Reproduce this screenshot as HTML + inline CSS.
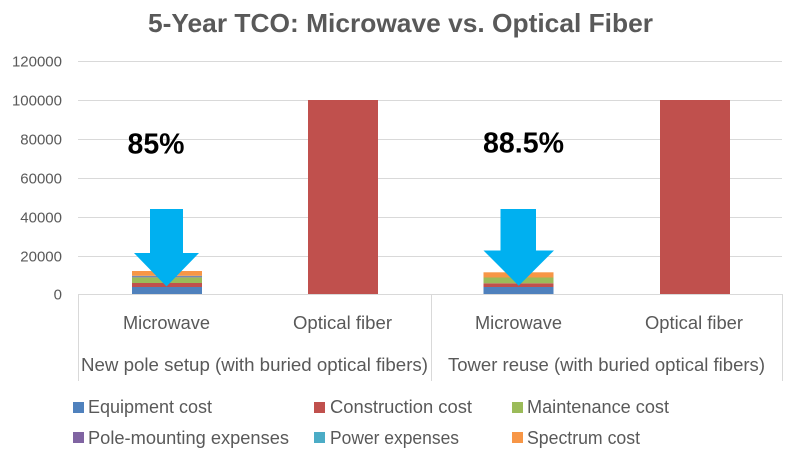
<!DOCTYPE html>
<html>
<head>
<meta charset="utf-8">
<style>
  html, body { margin:0; padding:0; background:#ffffff; }
  svg { display:block; }
  text { font-family: "Liberation Sans", Arial, sans-serif; }
</style>
</head>
<body>
<svg width="800" height="460" viewBox="0 0 800 460" xmlns="http://www.w3.org/2000/svg">
  <rect x="0" y="0" width="800" height="460" fill="#ffffff"/>

  <!-- Title -->
  <text x="148" y="32" font-size="26" font-weight="bold" fill="#595959" textLength="505" lengthAdjust="spacingAndGlyphs">5-Year TCO: Microwave vs. Optical Fiber</text>

  <!-- Gridlines -->
  <g stroke="#d9d9d9" stroke-width="1">
    <line x1="78" y1="61.5" x2="782" y2="61.5"/>
    <line x1="78" y1="100.5" x2="782" y2="100.5"/>
    <line x1="78" y1="139.5" x2="782" y2="139.5"/>
    <line x1="78" y1="178.5" x2="782" y2="178.5"/>
    <line x1="78" y1="217.5" x2="782" y2="217.5"/>
    <line x1="78" y1="256.5" x2="782" y2="256.5"/>
  </g>

  <!-- Y labels -->
  <g font-size="15" fill="#595959" text-anchor="end">
    <text x="62" y="66.5">120000</text>
    <text x="62" y="105.5">100000</text>
    <text x="62" y="144.5">80000</text>
    <text x="62" y="183.5">60000</text>
    <text x="62" y="222.5">40000</text>
    <text x="62" y="261.5">20000</text>
    <text x="62" y="299.5">0</text>
  </g>

  <!-- Bars group 1 microwave stacked -->
  <rect x="132" y="287" width="70" height="7.5" fill="#4F81BD"/>
  <rect x="132" y="283" width="70" height="4" fill="#C0504D"/>
  <rect x="132" y="277.3" width="70" height="5.7" fill="#9BBB59"/>
  <rect x="132" y="276.3" width="70" height="1" fill="#8064A2"/>
  <rect x="132" y="275.8" width="70" height="0.6" fill="#4BACC6"/>
  <rect x="132" y="271" width="70" height="4.8" fill="#F79646"/>

  <!-- Optical fiber 1 -->
  <rect x="308" y="100" width="70" height="194.5" fill="#C0504D"/>

  <!-- Group 2 microwave stacked -->
  <rect x="483.5" y="287" width="70" height="7.5" fill="#4F81BD"/>
  <rect x="483.5" y="283.3" width="70" height="3.7" fill="#C0504D"/>
  <rect x="483.5" y="277.5" width="70" height="5.8" fill="#9BBB59"/>
  <rect x="483.5" y="272.3" width="70" height="5.2" fill="#F79646"/>

  <!-- Optical fiber 2 -->
  <rect x="660" y="100" width="70" height="194.5" fill="#C0504D"/>

  <!-- Axis lines -->
  <g stroke="#d9d9d9" stroke-width="1">
    <line x1="78" y1="294.5" x2="782" y2="294.5"/>
    <line x1="78.5" y1="294" x2="78.5" y2="381"/>
    <line x1="431.5" y1="294" x2="431.5" y2="381"/>
    <line x1="782.5" y1="294" x2="782.5" y2="381"/>
  </g>

  <!-- Arrows -->
  <polygon points="150,209 183,209 183,253 199,253 166.5,286.5 134,253 150,253" fill="#00B0F0"/>
  <polygon points="500.5,209 536,209 536,250.5 554,250.5 518.7,285.7 483.5,250.5 500.5,250.5" fill="#00B0F0"/>

  <!-- Percent labels -->
  <text x="127.5" y="153.3" font-size="29" font-weight="bold" fill="#000000" textLength="57" lengthAdjust="spacingAndGlyphs">85%</text>
  <text x="483" y="152.7" font-size="29" font-weight="bold" fill="#000000" textLength="81" lengthAdjust="spacingAndGlyphs">88.5%</text>

  <!-- Category labels -->
  <g font-size="18" fill="#595959">
    <text x="123" y="329" textLength="87" lengthAdjust="spacingAndGlyphs">Microwave</text>
    <text x="293" y="329" textLength="99" lengthAdjust="spacingAndGlyphs">Optical fiber</text>
    <text x="475" y="329" textLength="87" lengthAdjust="spacingAndGlyphs">Microwave</text>
    <text x="645" y="329" textLength="98" lengthAdjust="spacingAndGlyphs">Optical fiber</text>
    <text x="81" y="371" textLength="347" lengthAdjust="spacingAndGlyphs">New pole setup (with buried optical fibers)</text>
    <text x="448" y="371" textLength="317" lengthAdjust="spacingAndGlyphs">Tower reuse (with buried optical fibers)</text>
  </g>

  <!-- Legend -->
  <rect x="73" y="402" width="11" height="11" fill="#4F81BD"/>
  <rect x="314" y="402" width="11" height="11" fill="#C0504D"/>
  <rect x="512" y="402" width="11" height="11" fill="#9BBB59"/>
  <rect x="73" y="432" width="11" height="11" fill="#8064A2"/>
  <rect x="314" y="432" width="11" height="11" fill="#4BACC6"/>
  <rect x="512" y="432" width="11" height="11" fill="#F79646"/>
  <g font-size="18" fill="#595959">
    <text x="88" y="413" textLength="124" lengthAdjust="spacingAndGlyphs">Equipment cost</text>
    <text x="330" y="413" textLength="142" lengthAdjust="spacingAndGlyphs">Construction cost</text>
    <text x="527" y="413" textLength="142" lengthAdjust="spacingAndGlyphs">Maintenance cost</text>
    <text x="88" y="444" textLength="201" lengthAdjust="spacingAndGlyphs">Pole-mounting expenses</text>
    <text x="330" y="444" textLength="129" lengthAdjust="spacingAndGlyphs">Power expenses</text>
    <text x="527" y="444" textLength="113" lengthAdjust="spacingAndGlyphs">Spectrum cost</text>
  </g>
</svg>
</body>
</html>
